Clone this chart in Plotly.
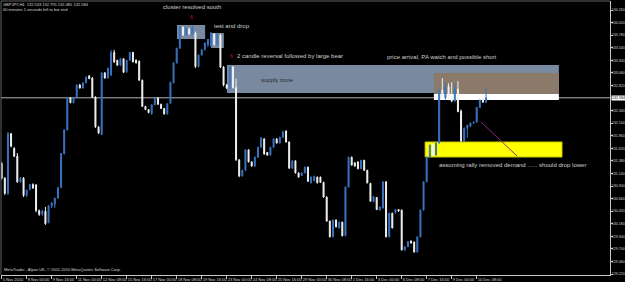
import plotly.graph_objects as go

header_line1 = "GBPJPY,H4  132.533 132.795 132.485 132.584"
header_line2 = "60 minutes 1 seconds left to bar end"
footer_text = "MetaTrader - Alpari UK, \u00a9 2001-2010 MetaQuotes Software Corp."

opens = [
    131.33, 131.05, 130.76, 131.90, 131.62, 131.47, 130.98, 131.05, 130.72, 130.83,
    130.93, 130.92, 130.43, 130.36, 130.42, 130.20, 130.52, 130.55, 130.67, 130.87,
    131.52, 131.97, 132.58, 132.49, 132.58, 132.83, 132.77, 132.87, 133.00, 132.96,
    132.60, 132.03, 131.88, 133.06, 132.96, 133.02, 133.45, 133.30, 133.21, 133.33,
    133.08, 133.30, 133.45, 133.30, 133.28, 132.92, 132.42, 132.36, 132.28, 132.45,
    132.58, 132.46, 132.38, 132.28, 132.48, 132.87, 133.25, 133.53, 133.93, 133.78,
    133.90, 133.80, 133.82, 133.18, 133.40, 133.50, 133.60, 133.57, 133.80, 133.60,
    133.78, 133.17, 132.83, 132.77, 133.17, 132.78,
    131.40, 131.09, 131.20, 131.59,
    131.36, 131.28, 131.45, 131.64, 131.80, 131.54, 131.49, 131.64, 131.80, 131.72,
    131.83, 131.95, 131.74, 131.24, 131.38, 131.15, 131.10, 131.15, 131.26, 130.96,
    131.00, 131.07, 131.07, 130.97, 130.69, 130.23, 129.93, 130.25, 130.10, 130.21,
    129.95, 130.88, 131.45, 131.34, 131.36, 131.23, 131.39, 131.20, 130.95, 130.60,
    130.68, 130.44, 130.48, 130.98, 129.93, 130.38, 130.39, 130.45, 130.44, 129.68,
    129.74, 129.85, 129.83, 129.64, 129.93, 130.44, 130.98, 131.45, 131.68, 131.49,
    131.72, 132.73, 132.58, 132.80, 132.60, 132.52, 132.75, 132.33, 131.76, 132.00,
    132.04, 132.10, 132.12, 132.40, 132.58, 132.50,
]
closes = [
    131.05, 130.76, 131.90, 131.66, 131.47, 130.98, 131.05, 130.72, 130.82, 130.93,
    130.86, 130.43, 130.36, 130.42, 130.18, 130.52, 130.58, 130.67, 130.87, 131.52,
    131.97, 132.58, 132.49, 132.58, 132.83, 132.77, 132.87, 132.98, 132.95, 132.60,
    132.03, 131.91, 133.06, 132.96, 133.15, 133.45, 133.27, 133.21, 133.33, 133.07,
    133.30, 133.45, 133.27, 133.25, 132.92, 132.42, 132.36, 132.30, 132.45, 132.58,
    132.46, 132.38, 132.28, 132.47, 132.88, 133.25, 133.53, 133.94, 133.78, 133.90,
    133.80, 133.92, 133.18, 133.40, 133.50, 133.63, 133.70, 133.82, 133.60, 133.80,
    133.17, 132.83, 132.77, 133.17, 132.78, 131.40,
    131.09, 131.20, 131.59, 131.36,
    131.28, 131.45, 131.64, 131.82, 131.51, 131.49, 131.64, 131.80, 131.72, 131.83,
    131.93, 131.74, 131.24, 131.38, 131.15, 131.07, 131.15, 131.26, 130.99, 131.07,
    131.08, 130.96, 130.97, 130.69, 130.23, 129.93, 130.25, 130.12, 130.21, 129.95,
    130.88, 131.45, 131.30, 131.28, 131.23, 131.39, 131.20, 130.96, 130.61, 130.70,
    130.45, 130.50, 130.98, 129.93, 130.38, 130.10, 130.45, 130.42, 129.68, 129.74,
    129.84, 129.81, 129.64, 129.93, 130.44, 130.98, 131.45, 131.68, 131.49, 131.72,
    132.73, 132.58, 132.80, 132.55, 132.52, 132.75, 132.32, 131.76, 132.00, 132.06,
    132.10, 132.12, 132.40, 132.54, 132.50, 132.58,
]
highs = [
    131.36, 131.07, 131.93, 131.91, 131.64, 131.53, 131.07, 131.07, 130.83, 130.94,
    130.95, 130.94, 130.45, 130.45, 130.50, 130.54, 130.58, 130.67, 130.88, 131.53,
    131.98, 132.60, 132.60, 132.60, 132.84, 132.85, 132.88, 132.99, 133.02, 132.98,
    132.61, 132.04, 133.07, 133.07, 133.16, 133.50, 133.50, 133.31, 133.34, 133.34,
    133.31, 133.46, 133.46, 133.32, 133.30, 132.93, 132.43, 132.37, 132.46, 132.59,
    132.59, 132.47, 132.39, 132.48, 132.89, 133.26, 133.54, 133.95, 133.95, 133.92,
    133.92, 133.96, 133.85, 133.41, 133.51, 133.64, 133.71, 133.84, 133.82, 133.82,
    133.80, 133.19, 132.85, 133.18, 133.19, 132.95,
    131.41, 131.21, 131.60, 131.60,
    131.37, 131.46, 131.65, 131.83, 131.81, 131.55, 131.65, 131.81, 131.81, 131.84,
    131.96, 131.96, 131.75, 131.39, 131.39, 131.16, 131.16, 131.27, 131.27, 131.08,
    131.10, 131.08, 131.08, 130.98, 130.70, 130.24, 130.26, 130.26, 130.22, 130.22,
    130.89, 131.46, 131.46, 131.36, 131.37, 131.40, 131.40, 131.21, 130.96, 130.71,
    130.69, 130.51, 130.99, 130.99, 130.39, 130.39, 130.46, 130.46, 130.45, 129.75,
    129.85, 129.86, 129.84, 129.94, 130.45, 130.99, 131.46, 131.69, 131.69, 131.73,
    132.74, 132.96, 132.88, 132.86, 132.88, 132.86, 132.90, 132.36, 132.02, 132.07,
    132.11, 132.13, 132.41, 132.55, 132.60, 132.77,
]
lows = [
    131.02, 130.73, 130.73, 131.64, 131.45, 130.96, 130.96, 130.69, 130.69, 130.82,
    130.85, 130.40, 130.33, 130.33, 130.16, 130.19, 130.48, 130.48, 130.66, 130.86,
    131.50, 131.96, 132.48, 132.48, 132.57, 132.76, 132.76, 132.86, 132.94, 132.58,
    132.01, 131.89, 131.87, 132.95, 132.95, 133.00, 133.25, 133.19, 133.19, 133.06,
    133.06, 133.29, 133.26, 133.24, 132.91, 132.41, 132.35, 132.29, 132.26, 132.44,
    132.45, 132.37, 132.26, 132.26, 132.47, 132.86, 133.24, 133.52, 133.77, 133.77,
    133.79, 133.79, 133.15, 133.16, 133.39, 133.49, 133.55, 133.56, 133.58, 133.59,
    133.15, 132.80, 132.75, 132.75, 132.76, 131.38,
    131.07, 131.08, 131.19, 131.35,
    131.27, 131.27, 131.44, 131.63, 131.50, 131.48, 131.48, 131.63, 131.71, 131.71,
    131.82, 131.73, 131.23, 131.23, 131.14, 131.06, 131.09, 131.14, 130.98, 130.95,
    130.99, 130.95, 130.96, 130.68, 130.22, 129.92, 129.92, 130.11, 130.09, 129.94,
    129.94, 130.87, 131.29, 131.27, 131.22, 131.22, 131.19, 130.95, 130.60, 130.59,
    130.44, 130.43, 130.47, 129.92, 129.92, 130.09, 130.37, 130.41, 129.67, 129.66,
    129.73, 129.80, 129.63, 129.63, 129.92, 130.43, 130.97, 131.44, 131.48, 131.48,
    131.71, 132.55, 132.55, 132.54, 132.50, 132.51, 132.31, 131.74, 131.74, 131.82,
    132.03, 132.09, 132.11, 132.39, 132.49, 132.48,
]
assert len(opens) == len(closes) == len(highs) == len(lows)
bar_index = list(range(len(opens)))

date_tick_pos = [0, 8, 16, 24, 32, 40, 48, 56, 64, 72, 80, 88, 96, 104, 112, 120, 128, 136, 144, 152]
date_tick_text = ["5 Nov 2010", "8 Nov 00:00", "9 Nov 16:00", "11 Nov 00:00", "12 Nov 08:00",
                  "15 Nov 16:00", "17 Nov 00:00", "18 Nov 08:00", "19 Nov 16:00", "23 Nov 00:00",
                  "24 Nov 08:00", "25 Nov 16:00", "29 Nov 00:00", "30 Nov 08:00", "1 Dec 16:00",
                  "3 Dec 00:00", "6 Dec 08:00", "7 Dec 16:00", "9 Dec 00:00", "10 Dec 08:00"]
price_ticks = [134.26, 134.02, 133.78, 133.54, 133.30, 133.06, 132.82, 132.34, 132.10,
               131.86, 131.62, 131.38, 131.14, 130.90, 130.66, 130.42, 130.18, 129.94,
               129.70, 129.46, 129.22]
current_price = 132.584

BULL = "#3a74c2"
BEAR = "#f2f2f2"
AX = "#c8c8c8"
FONT = "Liberation Sans"

fig = go.Figure()
fig.add_trace(go.Candlestick(
    x=bar_index, open=opens, high=highs, low=lows, close=closes,
    increasing=dict(line=dict(color=BULL, width=1), fillcolor=BULL),
    decreasing=dict(line=dict(color=BEAR, width=1), fillcolor=BEAR),
    whiskerwidth=0, showlegend=False, hoverinfo="skip",
))

slate = "#7889a0"
shapes = [
    dict(type="rect", x0=56.1, x1=65.1, y0=133.706, y1=133.974, fillcolor=slate, line_width=0, layer="below"),
    dict(type="rect", x0=67.0, x1=71.1, y0=133.535, y1=133.821, fillcolor=slate, line_width=0, layer="below"),
    dict(type="rect", x0=72.1, x1=178.3, y0=132.676, y1=133.210, fillcolor=slate, line_width=0, layer="below"),
    dict(type="rect", x0=138.3, x1=178.3, y0=132.656, y1=133.057, fillcolor="#8b7a6a", line_width=0, layer="below"),
    dict(type="rect", x0=138.3, x1=178.3, y0=132.542, y1=132.656, fillcolor="#ffffff", line_width=0, layer="below"),
    dict(type="rect", x0=135.5, x1=179.3, y0=131.454, y1=131.740, fillcolor="#ffff00",
         line=dict(color="#c8c800", width=1), layer="below"),
    dict(type="line", xref="paper", x0=0, x1=1, y0=current_price, y1=current_price,
         line=dict(color="#b4b4b4", width=1), layer="below"),
    dict(type="line", x0=153.4, x1=164.9, y0=132.122, y1=131.473,
         line=dict(color="#8a2d7a", width=1)),
    dict(type="line", xref="paper", yref="paper", x0=0, x1=1, y0=1, y1=1, line=dict(color="#606060", width=1)),
    dict(type="line", xref="paper", yref="paper", x0=0, x1=0, y0=0, y1=1, line=dict(color="#606060", width=1)),
]

ann_col = "#cfcfcf"
annotations = [
    dict(x=61, y=134.32, text="cluster resolved south", showarrow=False, xanchor="center",
         font=dict(size=6, color=ann_col, family=FONT)),
    dict(x=60.6, y=134.13, text="6", showarrow=False, xanchor="center",
         font=dict(size=5, color="#c01818", family=FONT)),
    dict(x=67.3, y=133.955, text="test and drop", showarrow=False, xanchor="left",
         font=dict(size=6, color=ann_col, family=FONT)),
    dict(x=73.5, y=133.38, text="6", showarrow=False, xanchor="center",
         font=dict(size=5, color="#c01818", family=FONT)),
    dict(x=74.8, y=133.38, text="2 candle reversal followed by large bear", showarrow=False, xanchor="left",
         font=dict(size=6, color=ann_col, family=FONT)),
    dict(x=88.1, y=132.93, text="supply zone", showarrow=False, xanchor="center",
         font=dict(size=6, color="#2a2a2a", family=FONT)),
    dict(x=122.8, y=133.363, text="price arrival, PA watch and possible short", showarrow=False, xanchor="left",
         font=dict(size=6, color=ann_col, family=FONT)),
    dict(x=139.4, y=131.30, text="assuming rally removed demand ...... should drop lower", showarrow=False,
         xanchor="left", font=dict(size=6, color=ann_col, family=FONT)),
    dict(xref="paper", yref="paper", x=0.002, y=0.989, text=header_line1, showarrow=False,
         xanchor="left", yanchor="middle", borderpad=0,
         font=dict(size=4, color="#d8d8d8", family=FONT)),
    dict(xref="paper", yref="paper", x=0.002, y=0.970, text=header_line2, showarrow=False,
         xanchor="left", yanchor="middle", borderpad=0,
         font=dict(size=4, color="#d8d8d8", family=FONT)),
    dict(xref="paper", yref="paper", x=0.002, y=0.003, text=footer_text, showarrow=False,
         xanchor="left", yanchor="bottom", font=dict(size=4, color="#d8d8d8", family=FONT)),
    dict(xref="paper", x=1.0, y=current_price, text="%.3f" % current_price, showarrow=False,
         xanchor="left", xshift=1, bgcolor="#ffffff", borderpad=0,
         font=dict(size=3.6, color="#000000", family=FONT)),
]

fig.update_layout(
    width=625, height=282,
    margin=dict(l=1, r=15, t=1, b=7, autoexpand=False),
    paper_bgcolor="#000000", plot_bgcolor="#000000",
    shapes=shapes, annotations=annotations,
    boxgap=0.55,
    font=dict(family=FONT, color=AX),
    xaxis=dict(range=[-0.22, 194.66], tickvals=date_tick_pos, ticktext=date_tick_text,
               ticklabelposition="outside right", tickangle=0, automargin=False,
               tickfont=dict(size=4, color="#d8d8d8"),
               showgrid=False, zeroline=False, showline=True, linecolor=AX, linewidth=1,
               ticks="outside", ticklen=3, tickcolor=AX, rangeslider=dict(visible=False)),
    yaxis=dict(side="right", range=[129.201, 134.432], tickvals=price_ticks, automargin=False,
               ticktext=["%.3f" % v for v in price_ticks], tickfont=dict(size=3.6, color="#d8d8d8"),
               showgrid=False, zeroline=False, showline=True, linecolor=AX, linewidth=1,
               ticks="outside", ticklen=2, tickcolor=AX, ticklabelstandoff=-2),
)

fig.write_html("out.html")
